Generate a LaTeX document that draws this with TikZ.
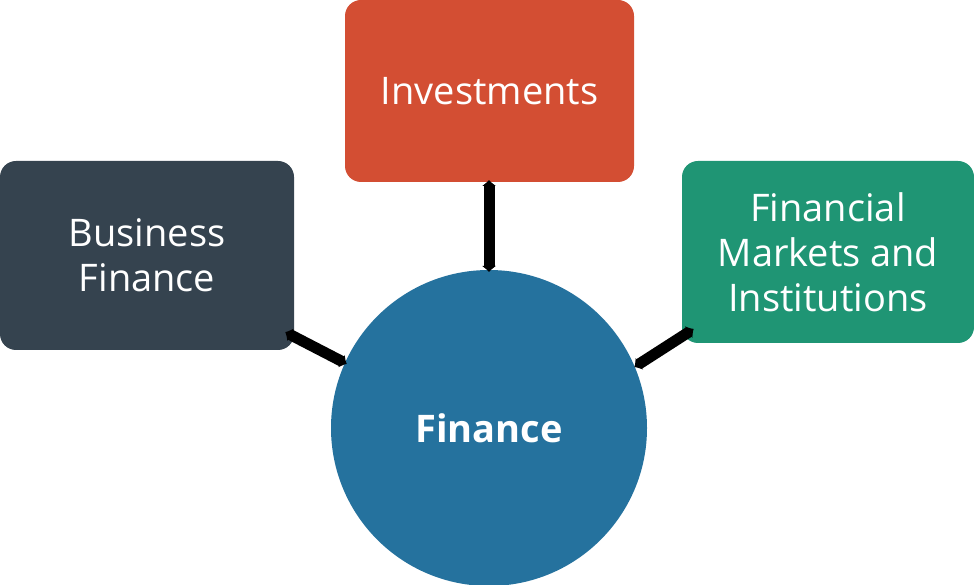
\documentclass[tikz,border=0pt]{standalone}
\usepackage{fontspec}
\setmainfont{Open Sans}
\usetikzlibrary{arrows.meta}
\definecolor{invred}{HTML}{D34E33}
\definecolor{busdark}{HTML}{35434F}
\definecolor{fmgreen}{HTML}{1F9574}
\definecolor{finblue}{HTML}{25729E}
\tikzset{
  box/.style={rounded corners=16pt, inner sep=0pt, text=white, align=center,
    font=\fontsize{38}{45}\selectfont},
  link/.style={line width=11pt, black, {Latex[length=6pt,width=15pt]}-{Latex[length=6pt,width=15pt]}, shorten <=-2pt, shorten >=-2pt}
}
\begin{document}
\begin{tikzpicture}[x=1pt,y=1pt]
\useasboundingbox (0,0) rectangle (974,585);
\begin{scope}
\clip (0,0) rectangle (974,585);
\node[box, fill=invred, minimum width=289pt, minimum height=182pt] (inv) at (489.5,494) {Investments};
\node[box, fill=busdark, minimum width=294pt, minimum height=189pt] (bus) at (147,329.5) {Business\\Finance};
\node[box, fill=fmgreen, minimum width=292pt, minimum height=182pt] (fm) at (828,333) {Financial\\Markets and\\Institutions};
\node[circle, fill=finblue, minimum size=316pt, inner sep=0pt, text=white,
  font=\fontsize{38}{45}\selectfont\bfseries] (fin) at (489,157) {Finance};
\coordinate (invb) at (489,403);
\coordinate (fint) at (489,315);
\coordinate (busa) at (287,252);
\coordinate (finl) at (345,222);
\coordinate (fma) at (692,255);
\coordinate (finr) at (636,219);
\draw[link] (invb) -- (fint);
\draw[link] (busa) -- (finl);
\draw[link] (fma) -- (finr);
\end{scope}
\end{tikzpicture}
\end{document}
